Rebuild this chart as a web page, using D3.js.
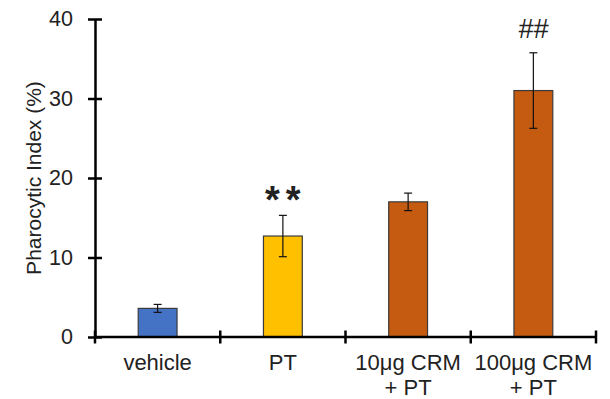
<!DOCTYPE html>
<html><head><meta charset="utf-8">
<script src="https://cdn.jsdelivr.net/npm/d3@7"></script>
<style>body{margin:0;background:#fff}svg{display:block}text{font-family:"Liberation Sans",Arial,sans-serif;fill:#222}</style>
</head><body><svg id="c" width="610" height="399"></svg>
<script>
const categories = [["vehicle"], ["PT"], ["10μg CRM", "+ PT"], ["100μg CRM", "+ PT"]];
const values = [3.6, 12.7, 17.0, 31.0];
const errors = [0.5, 2.6, 1.1, 4.75];
const colors = ["#4472C4", "#FFC000", "#C55A11", "#C55A11"];
const marks = ["", "**", "", "##"];
const yTicks = [0, 10, 20, 30, 40];
const yLabel = "Pharocytic Index (%)";

const svg = d3.select("#c");
const x0 = 95, x1 = 596, yTop = 19, yBot = 337;
const x = d3.scaleBand().domain(d3.range(categories.length)).range([x0, x1]).paddingInner(0.69).paddingOuter(0.345);
const y = d3.scaleLinear().domain([0, 40]).range([yBot, yTop]);

// bars
svg.selectAll("rect.bar").data(values).enter().append("rect")
  .attr("x", (d, i) => x(i)).attr("width", x.bandwidth())
  .attr("y", d => y(d)).attr("height", d => y(0) - y(d))
  .attr("fill", (d, i) => colors[i]).attr("stroke", "#3a3a3a").attr("stroke-width", 1.2);

// error bars
const eg = svg.append("g").attr("stroke", "#111").attr("stroke-width", 1.2);
values.forEach((v, i) => {
  const cx = x(i) + x.bandwidth() / 2;
  eg.append("line").attr("x1", cx).attr("x2", cx).attr("y1", y(v + errors[i])).attr("y2", y(v - errors[i]));
  [v + errors[i], v - errors[i]].forEach(e => eg.append("line").attr("x1", cx - 4).attr("x2", cx + 4).attr("y1", y(e)).attr("y2", y(e)));
});

// y axis
const ya = svg.append("g").attr("transform", `translate(${x0},0)`)
  .call(d3.axisLeft(y).tickValues(yTicks).tickSize(0).tickPadding(22));
ya.select(".domain").attr("stroke", "#000").attr("stroke-width", 2.5);
ya.selectAll(".tick text").attr("font-size", 21.5).attr("fill", "#222").style("font-family", "Liberation Sans, Arial, sans-serif");
ya.selectAll(".tick").append("line").attr("x1", -7).attr("x2", 7).attr("stroke", "#000").attr("stroke-width", 2.5);

// x axis
svg.append("line").attr("x1", x0).attr("x2", x1).attr("y1", yBot).attr("y2", yBot).attr("stroke", "#000").attr("stroke-width", 2.5);
const step = x.step();
d3.range(categories.length + 1).forEach(k => {
  const tx = x0 + k * step;
  svg.append("line").attr("x1", tx).attr("x2", tx).attr("y1", yBot - 6.5).attr("y2", yBot + 6.5).attr("stroke", "#000").attr("stroke-width", 2.5);
});
categories.forEach((lines, i) => {
  const cx = x(i) + x.bandwidth() / 2;
  const t = svg.append("text").attr("text-anchor", "middle").attr("font-size", 22).attr("x", cx).attr("y", 370);
  lines.forEach((l, j) => t.append("tspan").attr("x", cx).attr("dy", j === 0 ? 0 : 25).text(l));
});

// significance marks
marks.forEach((m, i) => {
  if (!m) return;
  const cx = x(i) + x.bandwidth() / 2;
  const top = y(values[i] + errors[i]);
  if (m === "**") {
    svg.append("text").attr("text-anchor", "middle").attr("x", cx + 3).attr("y", top - 2)
      .attr("font-size", 38).attr("font-weight", "bold").attr("letter-spacing", 6).attr("fill", "#111").text(m);
  } else {
    svg.append("text").attr("text-anchor", "middle").attr("x", cx).attr("y", top - 15)
      .attr("font-size", 27).style("font-style", "italic").text(m);
  }
});

// y label
svg.append("text").attr("transform", `translate(41,178) rotate(-90)`)
  .attr("text-anchor", "middle").attr("font-size", 21).text(yLabel);
</script></body></html>
